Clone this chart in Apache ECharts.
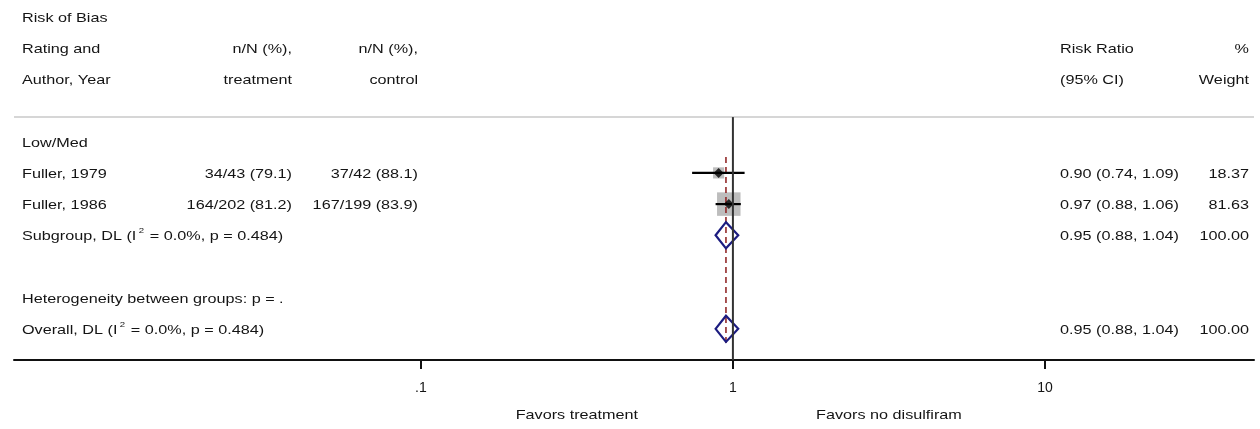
<!DOCTYPE html>
<html><head><meta charset="utf-8">
<script src="https://cdn.jsdelivr.net/npm/echarts@6/dist/echarts.min.js"></script>
<style>html,body{margin:0;padding:0;background:#fff}#c{width:1260px;height:429px}</style>
</head><body><div id="c"></div>
<script>
// ---------------- data ----------------
const headerLeft = ['Risk of Bias', 'Rating and', 'Author, Year'];
const headerTreat = ['', 'n/N (%),', 'treatment'];
const headerCtrl = ['', 'n/N (%),', 'control'];
const headerRR = ['', 'Risk Ratio', '(95% CI)'];
const headerWeight = ['', '%', 'Weight'];
const groupLabel = 'Low/Med';
const studies = ['Fuller, 1979', 'Fuller, 1986'];
const treatText = ['34/43 (79.1)', '164/202 (81.2)'];
const ctrlText = ['37/42 (88.1)', '167/199 (83.9)'];
const rr = [0.90, 0.97];
const lo = [0.74, 0.88];
const hi = [1.09, 1.06];
const weight = [18.37, 81.63];
const pooledLabels = ['Subgroup, DL', 'Overall, DL'];
const pooledI2 = ['0.0%', '0.0%'];
const pooledP = ['0.484', '0.484'];
const pooledRR = [0.95, 0.95];
const pooledLo = [0.88, 0.88];
const pooledHi = [1.04, 1.04];
const pooledWeight = [100.00, 100.00];
const heteroText = 'Heterogeneity between groups: p = .';
const overallRR = 0.95;
const tickValues = [0.1, 1, 10];
const tickLabels = ['.1', '1', '10'];
const favorLabels = ['Favors treatment', 'Favors no disulfiram'];

// ---------------- layout ----------------
const L = {
  groupRow: 4, studyRows: [5, 6], pooledRows: [7, 10], heteroRow: 9,
  sepRow: 3.21, overallTop: 4.49, overallBottom: 10.55,
  colLeft: 22, colTreat: 292, colCtrl: 418, colRR: 1060, colW: 1249,
  favorY: 415, textShift: 0.04
};
const FF = "'Liberation Sans', Arial, sans-serif";
const FONT = "13.5px " + FF;
const SX = 1.2;
const TXT = '#141414';
const lg = v => Math.log10(v);

const chart = echarts.init(document.getElementById('c'), null, {renderer: 'canvas'});

const option = {
  animation: false,
  backgroundColor: '#fff',
  grid: {left: 14, right: 6, top: 17, bottom: 69, containLabel: false},
  xAxis: {
    type: 'value', min: -2.304, max: 1.67,
    splitLine: {show: false},
    axisLine: {show: true, onZero: false, lineStyle: {color: '#111', width: 2}},
    axisTick: {show: true, customValues: tickValues.map(lg), length: 9, lineStyle: {color: '#111', width: 2}},
    axisLabel: {
      show: true, customValues: tickValues.map(lg), margin: 21,
      color: TXT, fontSize: 14, fontFamily: FF,
      formatter: v => {
        const i = tickValues.findIndex(t => Math.abs(lg(t) - v) < 1e-6);
        return i >= 0 ? tickLabels[i] : '';
      }
    }
  },
  yAxis: {type: 'value', min: 0, max: 11, inverse: true, show: false},
  series: [
    { // separator line under header
      type: 'line', data: [], silent: true,
      markLine: {symbol: 'none', silent: true, label: {show: false},
        lineStyle: {color: '#c8c8c8', width: 1.5, type: 'solid'},
        data: [{yAxis: L.sepRow}]}
    },
    { // weight squares
      type: 'scatter', z: 2, symbol: 'rect',
      data: rr.map((v, i) => [lg(v), L.studyRows[i], weight[i]]),
      symbolSize: d => 2.6 * Math.sqrt(d[2]),
      itemStyle: {color: '#bdbdbd', opacity: 1}
    },
    { // overall dashed line
      type: 'line', z: 3, symbol: 'none',
      data: [[lg(overallRR), L.overallTop], [lg(overallRR), L.overallBottom]],
      lineStyle: {color: '#8b1a1a', width: 1.5, type: [6, 4]}
    },
    { // CI lines
      type: 'custom', z: 4,
      data: rr.map((v, i) => [lg(lo[i]), lg(hi[i]), L.studyRows[i]]),
      renderItem: (params, api) => {
        const a = api.coord([api.value(0), api.value(2)]);
        const b = api.coord([api.value(1), api.value(2)]);
        return {type: 'line', shape: {x1: a[0], y1: a[1], x2: b[0], y2: b[1]},
          style: {stroke: '#000', lineWidth: 2.2}};
      }
    },
    { // point estimates
      type: 'scatter', z: 5, symbol: 'diamond', symbolSize: 10,
      data: rr.map((v, i) => [lg(v), L.studyRows[i]]),
      itemStyle: {color: '#000'}
    },
    { // pooled diamonds
      type: 'custom', z: 6,
      data: pooledRR.map((v, i) => [lg(pooledLo[i]), lg(v), lg(pooledHi[i]), L.pooledRows[i]]),
      renderItem: (params, api) => {
        const r = api.value(3), h = 0.42;
        const p1 = api.coord([api.value(0), r]);
        const p2 = api.coord([api.value(1), r - h]);
        const p3 = api.coord([api.value(2), r]);
        const p4 = api.coord([api.value(1), r + h]);
        return {type: 'polygon', shape: {points: [p1, p2, p3, p4]},
          style: {fill: 'none', stroke: '#1c1c80', lineWidth: 2.2}};
      }
    },
    { // null line at RR = 1
      type: 'line', z: 7, symbol: 'none',
      data: [[lg(1), L.sepRow], [lg(1), 11]],
      lineStyle: {color: '#333', width: 2}
    }
  ]
};
chart.setOption(option);

// ---------------- texts ----------------
const yOf = r => chart.convertToPixel({yAxisIndex: 0}, r + L.textShift);
const xOf = v => chart.convertToPixel({xAxisIndex: 0}, v);
const els = [];
function txt(s, x, r, align, rich, yPix) {
  const y = yPix !== undefined ? yPix : yOf(r);
  const style = {text: s, x: 0, y: 0, font: FONT, fill: TXT, align: align, verticalAlign: 'middle'};
  if (rich) style.rich = rich;
  els.push({type: 'text', x: x, y: y, scaleX: SX, silent: true, style: style});
}
headerLeft.forEach((s, i) => { if (s) txt(s, L.colLeft, i, 'left'); });
headerTreat.forEach((s, i) => { if (s) txt(s, L.colTreat, i, 'right'); });
headerCtrl.forEach((s, i) => { if (s) txt(s, L.colCtrl, i, 'right'); });
headerRR.forEach((s, i) => { if (s) txt(s, L.colRR, i, 'left'); });
headerWeight.forEach((s, i) => { if (s) txt(s, L.colW, i, 'right'); });
txt(groupLabel, L.colLeft, L.groupRow, 'left');
const ciText = (e, a, b) => e.toFixed(2) + ' (' + a.toFixed(2) + ', ' + b.toFixed(2) + ')';
studies.forEach((s, i) => {
  const r = L.studyRows[i];
  txt(s, L.colLeft, r, 'left');
  txt(treatText[i], L.colTreat, r, 'right');
  txt(ctrlText[i], L.colCtrl, r, 'right');
  txt(ciText(rr[i], lo[i], hi[i]), L.colRR, r, 'left');
  txt(weight[i].toFixed(2), L.colW, r, 'right');
});
const supRich = {sup: {font: "8px " + FF, fill: TXT, padding: [0, 1, 11, 2]}};
pooledLabels.forEach((s, i) => {
  const r = L.pooledRows[i];
  txt(s + ' (I{sup|2} = ' + pooledI2[i] + ', p = ' + pooledP[i] + ')', L.colLeft, r, 'left', supRich);
  txt(ciText(pooledRR[i], pooledLo[i], pooledHi[i]), L.colRR, r, 'left');
  txt(pooledWeight[i].toFixed(2), L.colW, r, 'right');
});
txt(heteroText, L.colLeft, L.heteroRow, 'left');
txt(favorLabels[0], xOf(-0.5), null, 'center', null, L.favorY);
txt(favorLabels[1], xOf(0.5), null, 'center', null, L.favorY);

chart.setOption({graphic: {elements: els}});
</script>
</body></html>
